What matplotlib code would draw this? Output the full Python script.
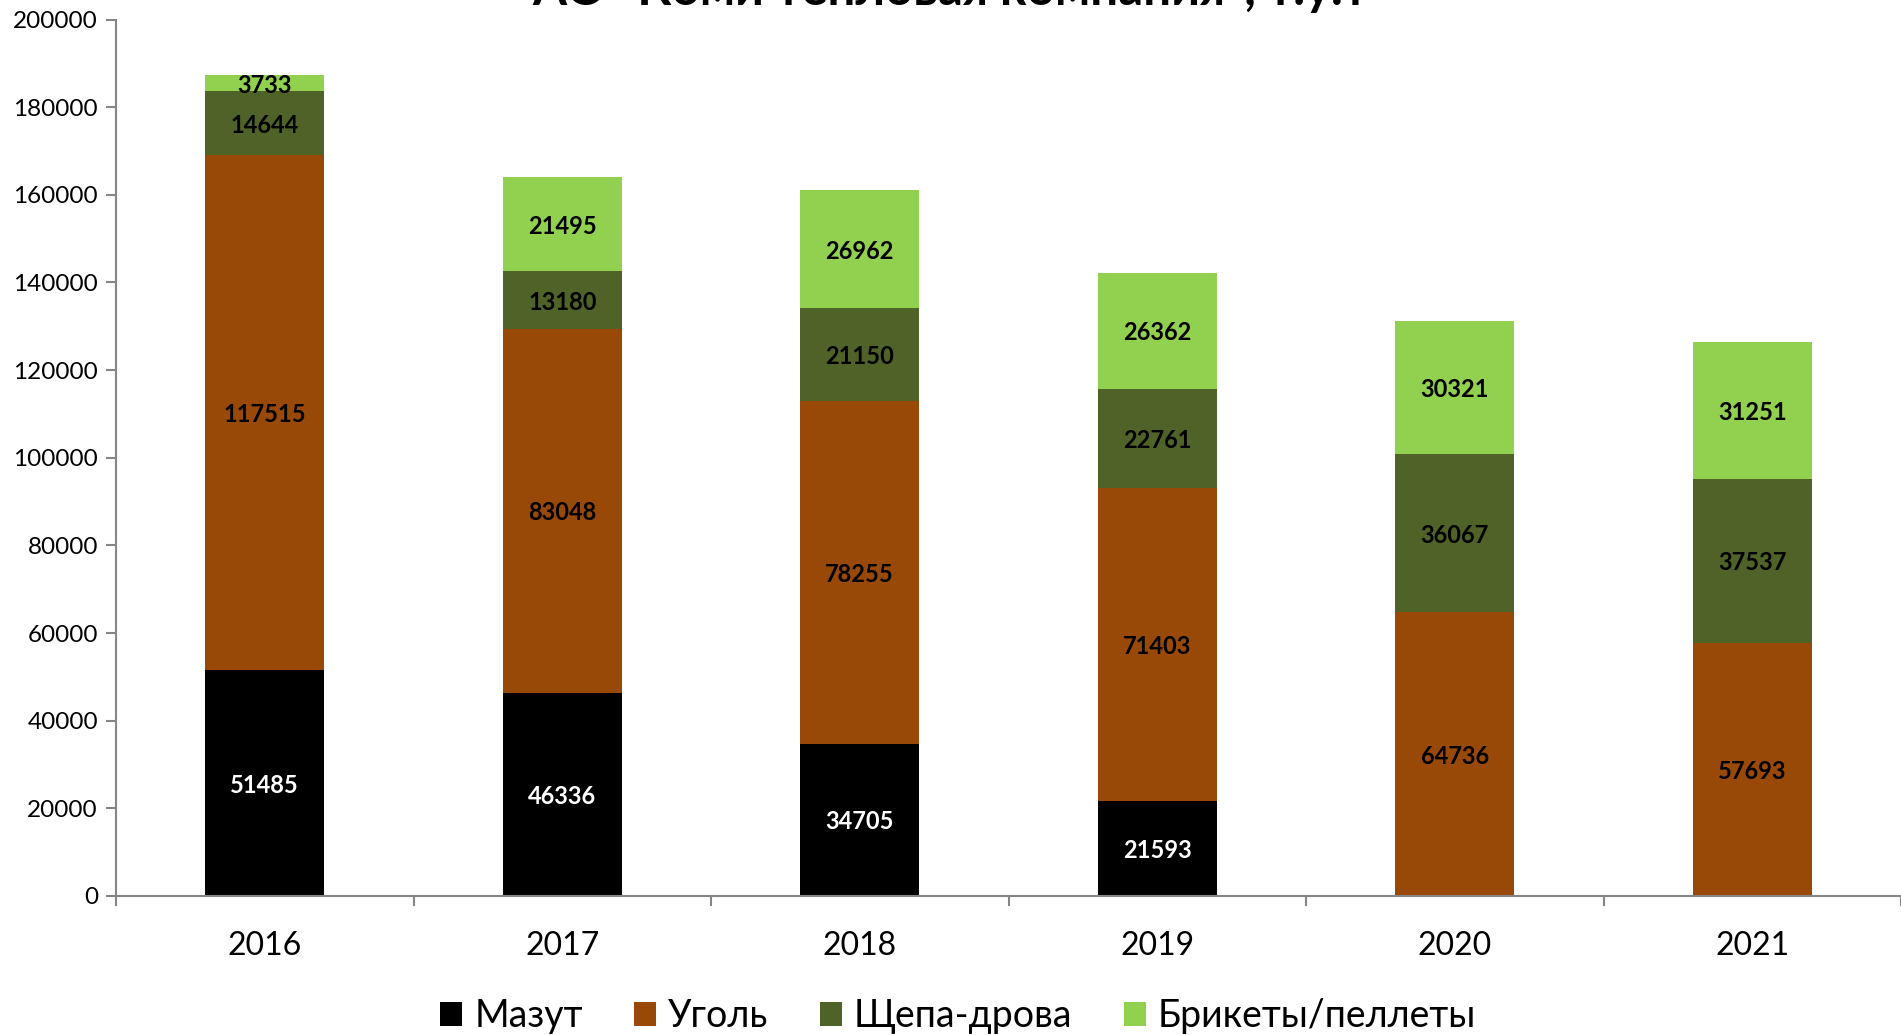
import matplotlib
matplotlib.use("Agg")
import matplotlib.pyplot as plt
from matplotlib.patches import Patch
from matplotlib.ticker import MultipleLocator, FixedLocator, NullFormatter

plt.rcParams['font.family'] = ['Lato', 'DejaVu Sans']

years = ["2016", "2017", "2018", "2019", "2020", "2021"]
series_names = ["Мазут", "Уголь", "Щепа-дрова", "Брикеты/пеллеты"]
mazut = [51485, 46336, 34705, 21593, 0, 0]
coal = [117515, 83048, 78255, 71403, 64736, 57693]
wood = [14644, 13180, 21150, 22761, 36067, 37537]
pellets = [3733, 21495, 26962, 26362, 30321, 31251]
colors = ["#000000", "#984807", "#4F6228", "#92D050"]
label_colors = ["white", "black", "black", "black"]
title = 'АО "Коми тепловая компания", т.у.т'

fig = plt.figure(figsize=(19.01, 10.35), dpi=100)
ax = fig.add_axes([116 / 1901, 1 - 896 / 1035, 1 - 116 / 1901, (896 - 19.5) / 1035])

x = list(range(len(years)))
bottom = [0] * len(years)
for vals, col, lcol in zip([mazut, coal, wood, pellets], colors, label_colors):
    ax.bar(x, vals, width=0.4, bottom=bottom, color=col, zorder=2)
    for i, v in enumerate(vals):
        if v > 0:
            ax.text(i, bottom[i] + v / 2, str(v), ha="center", va="center_baseline",
                    fontsize=17, fontweight="bold", color=lcol, zorder=3)
    bottom = [b + v for b, v in zip(bottom, vals)]

ax.set_xlim(-0.5, len(years) - 0.5)
ax.set_ylim(0, 200000)
ax.yaxis.set_major_locator(MultipleLocator(20000))
ax.set_xticks(x)
ax.set_xticklabels(years, fontsize=23)
ax.xaxis.set_minor_locator(FixedLocator([i - 0.5 for i in range(len(years) + 1)]))
ax.xaxis.set_minor_formatter(NullFormatter())
ax.tick_params(axis="x", which="major", length=0, pad=25.5)
ax.tick_params(axis="x", which="minor", length=7, width=1.5, color="#868686")
ax.tick_params(axis="y", length=7, width=1.5, color="#868686", labelsize=17.5, pad=6)

for s in ["top", "right"]:
    ax.spines[s].set_visible(False)
for s in ["left", "bottom"]:
    ax.spines[s].set_color("#868686")
    ax.spines[s].set_linewidth(1.5)

fig.text(0.5, 1 - 5 / 1035, title, ha="center", va="baseline",
         fontsize=35.5, fontweight="bold")

handles = [Patch(facecolor=c) for c in colors]
fig.legend(handles, series_names, loc="center", bbox_to_anchor=(958 / 1901, 1 - 1016 / 1035),
           ncol=4, frameon=False, fontsize=27, handlelength=0.6, handleheight=0.6,
           handletextpad=0.32, columnspacing=1.36, borderaxespad=0)

fig.savefig("out.png", dpi=100)
